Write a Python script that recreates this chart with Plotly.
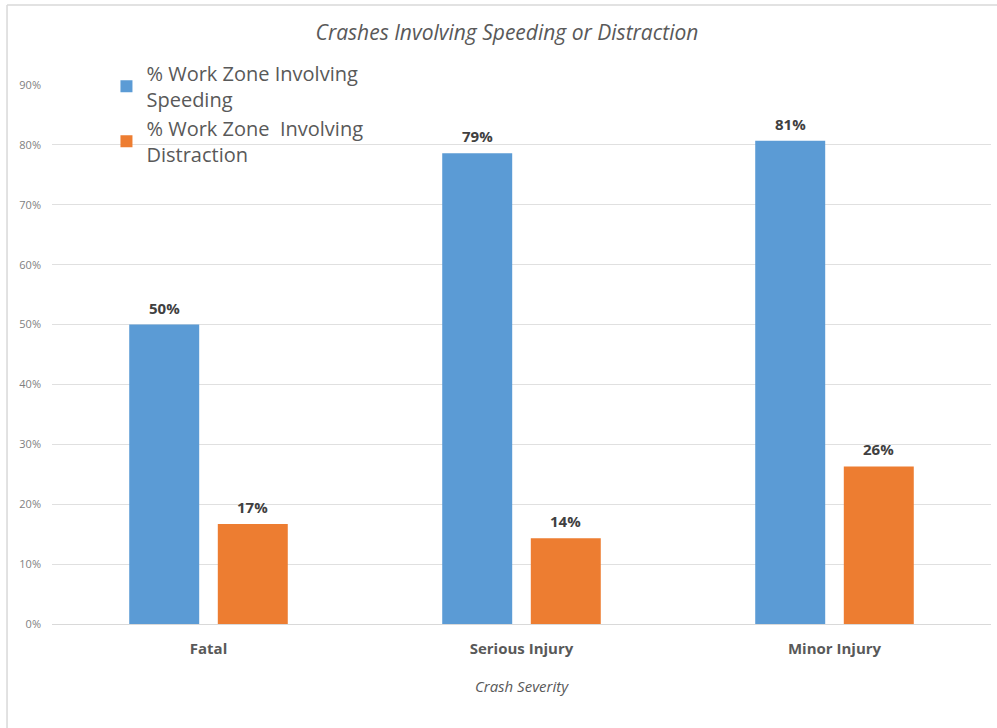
import plotly.graph_objects as go

# Crash severity categories and the share of work-zone crashes for each factor
categories = ["Fatal", "Serious Injury", "Minor Injury"]
speeding = [0.500, 0.786, 0.807]
distraction = [0.167, 0.143, 0.263]

series_names = ["% Work Zone Involving<br>Speeding", "% Work Zone  Involving<br>Distraction"]
tick_values = [0, 0.1, 0.2, 0.3, 0.4, 0.5, 0.6, 0.7, 0.8, 0.9]

BLUE = "#5b9bd5"
ORANGE = "#ed7d31"
FONT = "Open Sans, Liberation Sans, sans-serif"

fig = go.Figure()
for i, (name, vals, color) in enumerate([(series_names[0], speeding, BLUE),
                                         (series_names[1], distraction, ORANGE)]):
    fig.add_trace(go.Bar(
        x=categories, y=vals, name=name, offsetgroup=str(i),
        marker=dict(color=color, line=dict(width=0)),
    ))

fig.update_layout(barmode="group", bargap=0.434, bargroupgap=0.21)

# value labels above each bar, placed on the bar's own category slot
slot_shift = {0: -44, 1: 44}
for i, vals in enumerate([speeding, distraction]):
    for cat, v in zip(categories, vals):
        fig.add_annotation(
            x=cat, y=v, xref="x", yref="y", text=f"{v:.0%}",
            showarrow=False, xshift=slot_shift[i], yshift=17,
            font=dict(family=FONT, size=15, color="#404040", weight="bold"),
        )

# border lines framing the chart on the left and top
frame = dict(color="#d9d9d9", width=1.5)
fig.add_shape(type="line", xref="paper", yref="paper",
              x0=-0.0479, x1=1.02, y0=1.1484, y1=1.1484, line=frame)
fig.add_shape(type="line", xref="paper", yref="paper",
              x0=-0.0479, x1=-0.0479, y0=-0.2, y1=1.1484, line=frame)

fig.update_layout(
    width=997, height=728,
    margin=dict(l=52, r=6, t=85, b=104),
    paper_bgcolor="white", plot_bgcolor="white",
    title=dict(text="<i>Crashes Involving Speeding or Distraction</i>",
               x=0.5085, xref="container", xanchor="center",
               y=0.955, yref="container", yanchor="middle",
               font=dict(family=FONT, size=21, color="#595959")),
    legend=dict(x=0.058, y=1.058, xanchor="left", yanchor="top",
                xref="paper", yref="paper",
                font=dict(family=FONT, size=20, color="#595959"),
                bgcolor="rgba(0,0,0,0)", itemwidth=30, tracegroupgap=6),
    showlegend=True,
    xaxis=dict(
        tickfont=dict(family=FONT, size=15, color="#595959", weight="bold"),
        showgrid=False, showline=False, ticks="", ticklabelstandoff=14,
        title=dict(text="<i>Crash Severity</i>", standoff=24,
                   font=dict(family=FONT, size=15, color="#595959")),
    ),
    yaxis=dict(
        range=[0, 0.9], tickvals=tick_values, tickformat=".0%",
        tickfont=dict(family=FONT, size=11, color="#7f7f7f"),
        showgrid=True, gridcolor="#e0e0e0", gridwidth=1,
        zeroline=True, zerolinecolor="#d9d9d9", zerolinewidth=1,
        showline=False, ticks="", ticklabelstandoff=10,
    ),
)

fig.write_html("out.html")
